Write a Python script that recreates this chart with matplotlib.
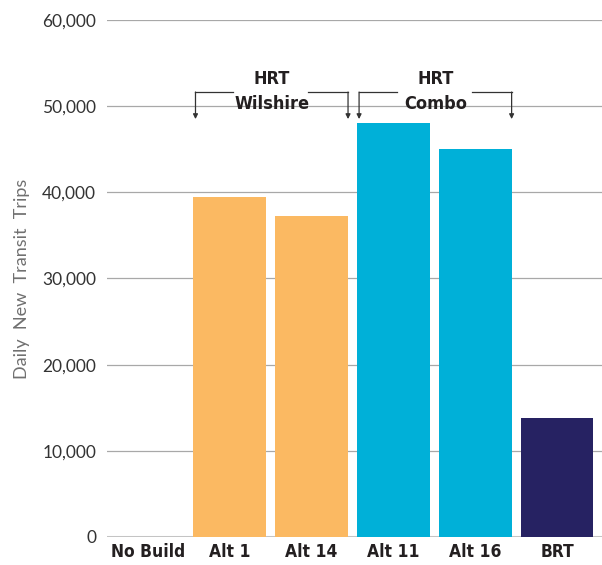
import numpy as np
import matplotlib.pyplot as plt

# data
categories = ['No Build', 'Alt 1', 'Alt 14', 'Alt 11', 'Alt 16', 'BRT']
trips = [0, 39500, 37300, 48000, 45000, 13800]
colors = ['#ffffff', '#fbb962', '#fbb962', '#00b0d8', '#00b0d8', '#262262']
yticks = [0, 10000, 20000, 30000, 40000, 50000, 60000]

fig = plt.figure(figsize=(6.02, 5.65), dpi=100)
ax = fig.add_axes([0.178, 0.0496, 0.822, 0.915])

x = np.arange(len(categories))
ax.bar(x, trips, width=0.89, color=colors, zorder=3)

# grid and axes
for t in yticks[1:]:
    ax.axhline(t, color='#a8a8a8', lw=0.9, zorder=1)
ax.axhline(0, color='#c4c4c4', lw=2.2, zorder=2)
for s in ax.spines.values():
    s.set_visible(False)
ax.set_xlim(-0.5, 5.55)
ax.set_ylim(0, 60000)
ax.set_yticks(yticks)
ax.set_yticklabels([f'{v:,}' for v in yticks], fontsize=12.5, family='Lato',
                   color='#333333')
ax.set_xticks(x)
ax.set_xticklabels(categories, fontsize=12.5, fontweight='bold', color='#231f20',
                   family='DejaVu Sans', fontstretch='condensed')
ax.tick_params(length=0, pad=4)
ax.tick_params(axis='y', pad=8)
ax.set_ylabel('Daily  New  Transit  Trips', fontsize=13,
              color='#707070', family='Lato', labelpad=9)


# group brackets
def bracket(x0, x1, xm0, xm1, label):
    ytop, ytip = 51640, 48500
    kw = dict(color='#333333', lw=0.9, zorder=4)
    ax.plot([x0, xm0], [ytop, ytop], **kw)
    ax.plot([xm1, x1], [ytop, ytop], **kw)
    for xx in (x0, x1):
        ax.annotate('', xy=(xx, ytip), xytext=(xx, ytop),
                    arrowprops=dict(arrowstyle='-|>', color='#333333', lw=0.9,
                                    mutation_scale=7, shrinkA=0, shrinkB=0))
    ax.text((x0 + x1) / 2, 51700, label, ha='center', va='center',
            fontsize=13, fontweight='bold', color='#231f20',
            fontstretch='condensed', linespacing=1.5)


bracket(0.58, 2.445, 1.04, 1.96, 'HRT\nWilshire')
bracket(2.58, 4.445, 3.04, 3.96, 'HRT\nCombo')

fig.savefig('out.png', dpi=100)
